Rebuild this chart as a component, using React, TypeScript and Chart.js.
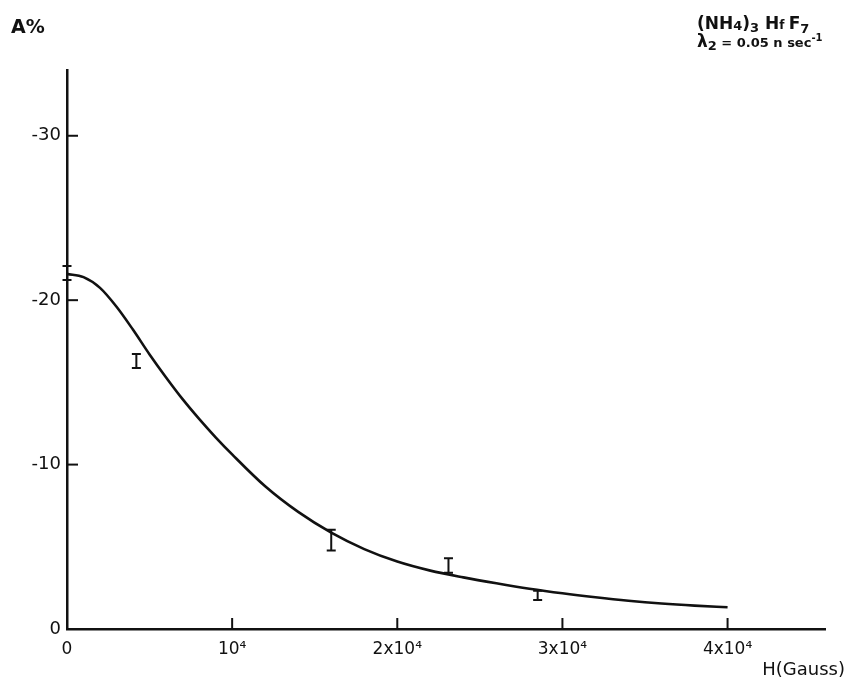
import React, { useEffect, useRef } from "react";
import { Chart, registerables } from "chart.js";

Chart.register(...registerables);

// Fitted curve (H in Gauss, A in %)
const curveH = [0, 1000, 2000, 3000, 4000, 5000, 6000, 7000, 8000, 9000, 10000, 12000, 14000, 16000, 18000, 20000, 22000, 24000, 26000, 28000, 30000, 32000, 34000, 36000, 38000, 40000];
const curveA = [-21.6, -21.4, -20.75, -19.6, -18.2, -16.7, -15.3, -13.98, -12.78, -11.66, -10.62, -8.68, -7.12, -5.86, -4.86, -4.1, -3.55, -3.14, -2.78, -2.45, -2.17, -1.93, -1.72, -1.55, -1.42, -1.32];

// Measured points with error bars
const pointH = [0, 4200, 16000, 23100, 28500];
const pointA = [-21.65, -16.3, -5.4, -3.86, -2.05];
const pointErr = [0.43, 0.43, 0.63, 0.44, 0.28];

// Ticks
const xTickValues = [0, 10000, 20000, 30000, 40000];
const xTickLabels = ["0", "10\u2074", "2x10\u2074", "3x10\u2074", "4x10\u2074"];
const yTickValues = [-30, -20, -10, 0];
const yTickLabels = ["-30", "-20", "-10", "0"];

const FONT = "'DejaVu Sans', sans-serif";
const INK = "#111";

type Run = { t: string; size: number; dy?: number; bold?: boolean };

function drawRuns(ctx: CanvasRenderingContext2D, runs: Run[], x: number, y: number) {
  let cx = x;
  for (const r of runs) {
    ctx.font = `${r.bold ? "bold " : ""}${r.size}px ${FONT}`;
    ctx.fillText(r.t, cx, y + (r.dy || 0));
    cx += ctx.measureText(r.t).width;
  }
}

const decorPlugin = {
  id: "decor",
  afterDatasetsDraw(chart: any) {
    const ctx = chart.ctx as CanvasRenderingContext2D;
    const xs = chart.scales.x;
    const ys = chart.scales.y;
    const area = chart.chartArea;
    ctx.save();
    ctx.strokeStyle = INK;
    ctx.fillStyle = INK;
    // inward tick marks
    ctx.lineWidth = 2;
    for (const v of xTickValues) {
      if (v === 0) continue;
      const px = xs.getPixelForValue(v);
      ctx.beginPath();
      ctx.moveTo(px, area.bottom);
      ctx.lineTo(px, area.bottom - 11);
      ctx.stroke();
    }
    for (const v of yTickValues) {
      if (v === 0) continue;
      const py = ys.getPixelForValue(v);
      ctx.beginPath();
      ctx.moveTo(area.left, py);
      ctx.lineTo(area.left + 11, py);
      ctx.stroke();
    }
    // error bars
    ctx.lineWidth = 2;
    for (let i = 0; i < pointH.length; i++) {
      const px = xs.getPixelForValue(pointH[i]);
      const pt = ys.getPixelForValue(pointA[i] - pointErr[i]);
      const pb = ys.getPixelForValue(pointA[i] + pointErr[i]);
      const hw = 4.5;
      ctx.beginPath();
      ctx.moveTo(px, pt);
      ctx.lineTo(px, pb);
      ctx.moveTo(px - hw, pt);
      ctx.lineTo(px + hw, pt);
      ctx.moveTo(px - hw, pb);
      ctx.lineTo(px + hw, pb);
      ctx.stroke();
    }
    // annotations
    ctx.textAlign = "left";
    ctx.textBaseline = "alphabetic";
    drawRuns(ctx, [{ t: "A%", size: 19, bold: true }], 11, 33);
    drawRuns(
      ctx,
      [
        { t: "(NH", size: 17, bold: true },
        { t: "4", size: 13, bold: true, dy: 1 },
        { t: ")", size: 17, bold: true },
        { t: "3", size: 13, bold: true, dy: 3 },
        { t: " H", size: 17, bold: true },
        { t: "f ", size: 12, bold: true },
        { t: "F", size: 17, bold: true },
        { t: "7", size: 13, bold: true, dy: 4 },
      ],
      697,
      29
    );
    drawRuns(
      ctx,
      [
        { t: "\u03bb", size: 17, bold: true },
        { t: "2", size: 13, bold: true, dy: 3 },
        { t: " = 0.05 n sec", size: 13, bold: true },
        { t: "-1", size: 10, bold: true, dy: -6 },
      ],
      697,
      47
    );
    ctx.textAlign = "right";
    ctx.font = `18px ${FONT}`;
    ctx.fillText("H(Gauss)", 845, 675);
    ctx.restore();
  },
};

export default function App() {
  const ref = useRef<HTMLCanvasElement | null>(null);
  useEffect(() => {
    if (!ref.current) return;
    const chart = new Chart(ref.current, {
      type: "line",
      data: {
        datasets: [
          {
            label: "fit",
            data: curveH.map((h, i) => ({ x: h, y: curveA[i] })),
            borderColor: INK,
            borderWidth: 2.6,
            pointRadius: 0,
            cubicInterpolationMode: "monotone",
            fill: false,
          },
          {
            label: "measured",
            data: pointH.map((h, i) => ({ x: h, y: pointA[i] })),
            showLine: false,
            pointRadius: 0,
            borderColor: INK,
          },
        ],
      },
      options: {
        animation: false,
        responsive: true,
        maintainAspectRatio: false,
        layout: { padding: { left: 0, top: 70, right: 22, bottom: 0 } },
        plugins: { legend: { display: false }, tooltip: { enabled: false }, title: { display: false } },
        scales: {
          x: {
            type: "linear",
            min: 0,
            max: 45900,
            afterBuildTicks: (s: any) => {
              s.ticks = xTickValues.map((v) => ({ value: v }));
            },
            afterFit: (s: any) => {
              s.height = 50;
            },
            grid: { display: false, drawTicks: false },
            border: { display: true, color: INK, width: 2.5 },
            ticks: {
              color: INK,
              font: { family: FONT, size: 17 },
              padding: 10,
              maxRotation: 0,
              autoSkip: false,
              callback: (v: any) => {
                const i = xTickValues.indexOf(Number(v));
                return i >= 0 ? xTickLabels[i] : "";
              },
            },
          },
          y: {
            type: "linear",
            min: -34,
            max: 0,
            reverse: true,
            afterBuildTicks: (s: any) => {
              s.ticks = yTickValues.map((v) => ({ value: v }));
            },
            afterFit: (s: any) => {
              s.width = 67;
            },
            grid: { display: false, drawTicks: false },
            border: { display: true, color: INK, width: 2.5 },
            ticks: {
              color: INK,
              font: { family: FONT, size: 18 },
              padding: 6,
              autoSkip: false,
              callback: (v: any) => {
                const i = yTickValues.indexOf(Number(v));
                return i >= 0 ? yTickLabels[i] : "";
              },
            },
          },
        },
      },
      plugins: [decorPlugin],
    });
    return () => chart.destroy();
  }, []);
  return (
    <div style={{ position: "absolute", left: 0, top: 0, width: 847, height: 679, background: "#fff" }}>
      <canvas ref={ref} />
    </div>
  );
}
